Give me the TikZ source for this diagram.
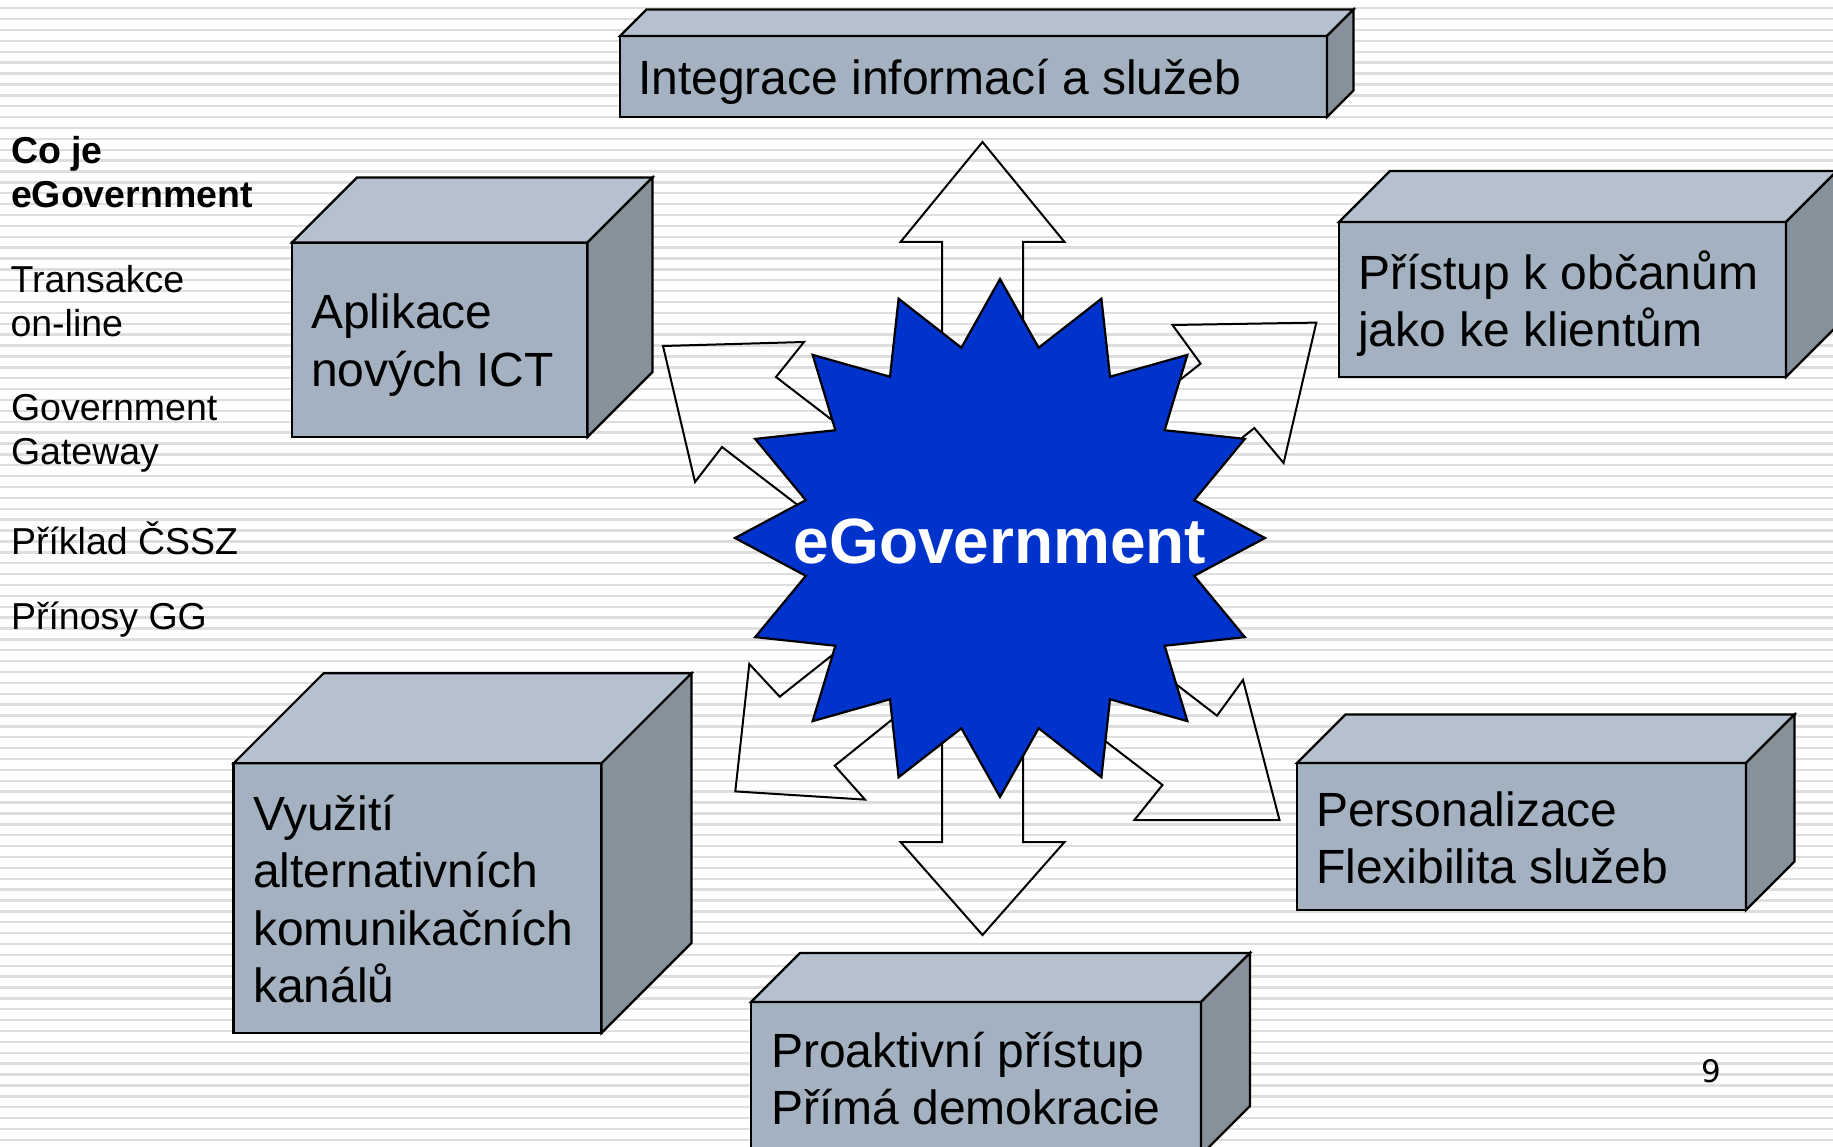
\documentclass[tikz,border=0pt]{standalone}
\usepackage{fontspec}
\setmainfont{Liberation Sans}
\newfontfamily\numfont{DejaVu Sans}
\definecolor{stripec}{RGB}{222,222,222}
\definecolor{frontc}{RGB}{163,177,193}
\definecolor{topc}{RGB}{181,193,206}
\definecolor{sidec}{RGB}{134,145,156}
\definecolor{starblue}{RGB}{0,51,204}
\newcommand\bstrut{\rule{0pt}{50pt}}
\newcommand\sstrut{\rule{0pt}{40pt}}
\tikzset{
  stripeline/.style={draw=stripec, line width=2.4pt},
  frontface/.style={draw=black, fill=frontc, line width=2.2pt, rectangle, inner sep=0pt, outer sep=0pt},
  topface/.style={draw=black, fill=topc, line width=2.2pt, line join=miter},
  sideface/.style={draw=black, fill=sidec, line width=2.2pt, line join=miter},
  arrowline/.style={draw=black, line width=2pt, line join=miter},
  starshape/.style={draw=black, fill=starblue, line width=2.2pt, line join=miter},
  boxtext/.style={anchor=north west, inner sep=0pt, outer sep=0pt, align=left, font=\fontsize{48}{57.5}\selectfont},
  sidetext/.style={anchor=north west, inner sep=0pt, outer sep=0pt, align=left, font=\fontsize{37.5}{44}\selectfont},
  sidebold/.style={sidetext, font=\fontsize{37.5}{44}\selectfont\bfseries},
}
% name, x1, y1, x2, y2, depth
\newcommand\cubebox[6]{%
  \node[frontface, anchor=north west, minimum width={#4-#2}, minimum height={#5-#3}] (#1) at (#2,#3) {};
  \draw[topface] (#1.north west) -- ++(#6,-#6) -- ++({#4-#2},0) -- (#1.north east) -- cycle;
  \draw[sideface] (#1.north east) -- ++(#6,-#6) -- ++(0,{#5-#3}) -- (#1.south east) -- cycle;
}
\begin{document}
\begin{tikzpicture}[x=1pt,y={(0pt,-1pt)}]
\useasboundingbox (0,0) rectangle (1833,1147);
\clip (0,0) rectangle (1833,1147);
\fill[white] (0,0) rectangle (1833,1147);
\foreach \k in {0,...,105}
  \draw[stripeline] (0,{8.3+10.88*\k}) -- (1833,{8.3+10.88*\k});

% arrows (outline only)
\draw[arrowline] (982.5,142) -- (1064.5,242) -- (1023,242) -- (1023,842) -- (1064.5,842)
  -- (982.5,935) -- (900.5,842) -- (942,842) -- (942,242) -- (900.5,242) -- cycle;
\draw[arrowline] (663,346) -- (804,342) -- (776,377) -- (1217,715.7) -- (1243,680)
  -- (1279.5,820) -- (1134.4,820) -- (1162.5,785) -- (722,447) -- (695,482) -- cycle;
\draw[arrowline] (1316.3,322.6) -- (1283.6,463) -- (1254.3,428) -- (834.7,765.7) -- (865,799.6)
  -- (735.3,791.4) -- (749.3,664) -- (779.7,696.7) -- (1200.6,363.6) -- (1172.5,325) -- cycle;

% star
\draw[starshape] (1265,538) \foreach \i in {1,...,31} {
  -- ({1000+ifthenelse(mod(\i,2)==0,265,198)*cos(\i*11.25)}, {538-ifthenelse(mod(\i,2)==0,259,194)*sin(\i*11.25)})
} -- cycle;
\node[font=\fontsize{64}{70}\selectfont\bfseries, text=white, anchor=base, inner sep=0pt] (egov) at (1000,563) {eGovernment};

% boxes
\cubebox{integ}{620}{36}{1327}{117}{26.5}
\node[boxtext] (integt) at (638,{95-50}) {\bstrut Integrace informací a služeb};

\cubebox{aplik}{292}{242.5}{587.5}{437}{65}
\node[boxtext] (aplikt) at (311,{328.5-50}) {\bstrut Aplikace\\nových ICT};

\cubebox{pristup}{1339}{222}{1786}{377}{51}
\node[boxtext] (pristupt) at (1358,{289.5-50}) {\bstrut Přístup k občanům\\jako ke klientům};

\cubebox{vyuziti}{233.5}{763.3}{601.5}{1033}{90}
\node[boxtext] (vyuzitit) at (253,{830-50}) {\bstrut Využití\\alternativních\\komunikačních\\kanálů};

\cubebox{person}{1297}{763}{1746}{910}{48.5}
\node[boxtext] (persont) at (1316,{826-50}) {\bstrut Personalizace\\Flexibilita služeb};

\cubebox{proakt}{751}{1002}{1201}{1155}{49}
\node[boxtext] (proaktt) at (771,{1067-50}) {\bstrut Proaktivní přístup\\Přímá demokracie};

% side menu
\node[sidebold] (coje) at (11,{164-40}) {\sstrut Co je\\eGovernment};
\node[sidetext] (transakce) at (10.5,{293-40}) {\sstrut Transakce\\on-line};
\node[sidetext] (gateway) at (11,{420-40}) {\sstrut Government\\Gateway};
\node[sidetext] (priklad) at (11,{554-40}) {\sstrut Příklad ČSSZ};
\node[sidetext] (prinosy) at (11,{629-40}) {\sstrut Přínosy GG};

% page number
\node[font=\numfont\fontsize{31}{36}\selectfont, anchor=base, inner sep=0pt] (pagenum) at (1711,1082) {9};
\end{tikzpicture}
\end{document}
